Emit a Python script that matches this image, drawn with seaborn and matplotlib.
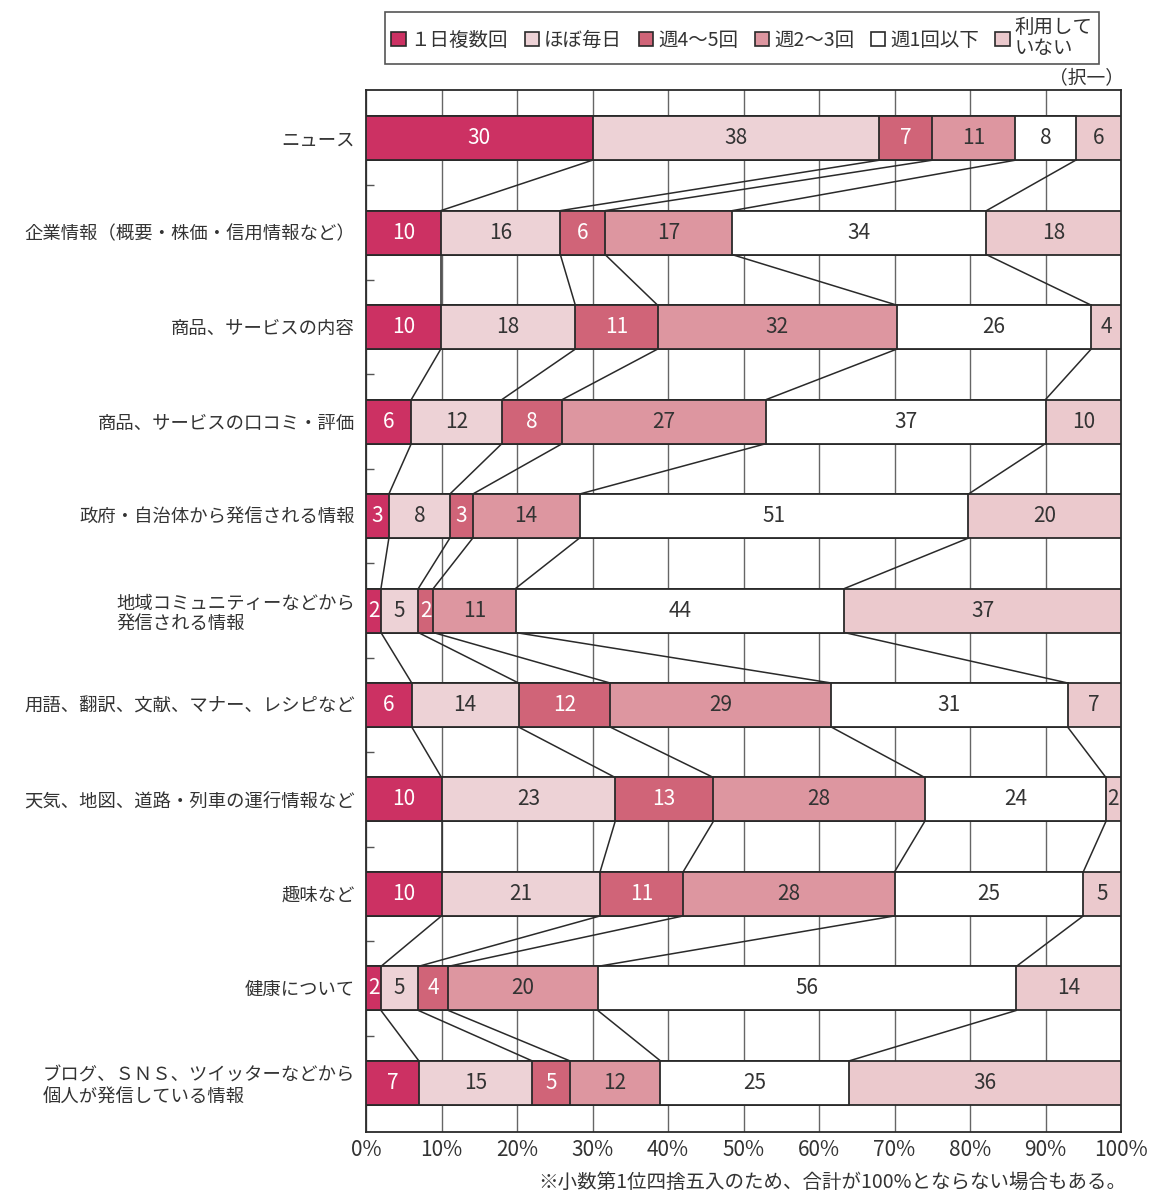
import numpy as np
import pandas as pd
import matplotlib
matplotlib.use("Agg")
import matplotlib.pyplot as plt
import seaborn as sns
from matplotlib.patches import Patch

categories = [
    "ニュース",
    "企業情報（概要・株価・信用情報など）",
    "商品、サービスの内容",
    "商品、サービスの口コミ・評価",
    "政府・自治体から発信される情報",
    "地域コミュニティーなどから\n発信される情報",
    "用語、翻訳、文献、マナー、レシピなど",
    "天気、地図、道路・列車の運行情報など",
    "趣味など",
    "健康について",
    "ブログ、ＳＮＳ、ツイッターなどから\n個人が発信している情報",
]
series_names = ["１日複数回", "ほぼ毎日", "週4～5回", "週2～3回", "週1回以下", "利用して\nいない"]
several_daily = [30, 10, 10, 6, 3, 2, 6, 10, 10, 2, 7]
almost_daily = [38, 16, 18, 12, 8, 5, 14, 23, 21, 5, 15]
w4_5 = [7, 6, 11, 8, 3, 2, 12, 13, 11, 4, 5]
w2_3 = [11, 17, 32, 27, 14, 11, 29, 28, 28, 20, 12]
w1_less = [8, 34, 26, 37, 51, 44, 31, 24, 25, 56, 25]
not_used = [6, 18, 4, 10, 20, 37, 7, 2, 5, 14, 36]
x_ticks = [0, 10, 20, 30, 40, 50, 60, 70, 80, 90, 100]
x_tick_labels = [f"{v}%" for v in x_ticks]

colors = ["#CC3163", "#EDD2D6", "#D06478", "#DD96A0", "#FFFFFF", "#EBC9CD"]
text_colors = ["white", "#333333", "white", "#333333", "#333333", "#333333"]
edge = "#2a2a2a"

sns.set_theme(style="white")
plt.rcParams['font.family'] = ['Noto Sans CJK JP', 'DejaVu Sans']

vals = np.array([several_daily, almost_daily, w4_5, w2_3, w1_less, not_used], dtype=float).T
norm = vals / vals.sum(axis=1, keepdims=True) * 100
cum = np.cumsum(norm, axis=1)

fig = plt.figure(figsize=(11.54, 11.94), dpi=100)
ax = fig.add_axes([366/1154, 1-1132/1194, (1121-366)/1154, (1132-90)/1194])

bh = 0.466
for k in range(5, -1, -1):
    df = pd.DataFrame({"cat": categories, "val": cum[:, k]})
    sns.barplot(data=df, x="val", y="cat", orient="h", color=colors[k], saturation=1,
                width=bh, edgecolor=edge, linewidth=1.3, ax=ax, zorder=3)

# value labels
for i in range(len(categories)):
    left = 0
    for k in range(6):
        right = cum[i, k]
        ax.text((left + right) / 2, i, f"{int(vals[i, k])}", ha="center", va="center",
                fontsize=15, color=text_colors[k], zorder=5)
        left = right

# connectors
for i in range(len(categories) - 1):
    for k in range(5):
        ax.plot([cum[i, k], cum[i + 1, k]], [i + bh / 2, i + 1 - bh / 2],
                color=edge, lw=1.1, zorder=4)

ax.set_xlim(0, 100)
ax.set_ylim(10.52, -0.51)
ax.set_xticks(x_ticks)
ax.set_xticklabels(x_tick_labels, fontsize=15, color="#333333")
ax.set_yticks(range(len(categories)))
ax.set_yticklabels(categories, fontsize=13.2, color="#333333")
for lab in ax.get_yticklabels():
    lab.set_multialignment("left")
    lab.set_linespacing(1.2)
ax.set_xlabel("")
ax.set_ylabel("")
ax.tick_params(axis="y", which="major", left=False, length=0, pad=8)
ax.tick_params(axis="x", length=0, pad=5)
ax.set_yticks(np.arange(0.5, 10, 1), minor=True)
ax.tick_params(axis="y", which="minor", left=True, direction="in", length=6, width=1,
               color="#555555")
ax.xaxis.grid(True, color="#666666", lw=1)
ax.set_axisbelow(True)
for s in ax.spines.values():
    s.set_visible(True)
    s.set_color(edge)
    s.set_linewidth(1.3)

handles = [Patch(facecolor=c, edgecolor=edge, linewidth=1.2) for c in colors]
leg = fig.legend(handles, series_names, loc="center", bbox_to_anchor=(742/1154, 1-38/1194),
                 ncol=6, frameon=True, fancybox=False, fontsize=14, handlelength=0.75,
                 handleheight=0.75, handletextpad=0.25, columnspacing=0.85, borderpad=0.3,
                 labelspacing=0.2)
leg.get_frame().set_edgecolor(edge)
leg.get_frame().set_linewidth(1.2)
for t in leg.get_texts():
    t.set_color("#333333")
    t.set_linespacing(0.95)

fig.text(1124/1154, 1-78/1194, "（択一）", ha="right", va="center", fontsize=13.5, color="#333333")
fig.text(1126/1154, 1-1182/1194, "※小数第1位四捨五入のため、合計が100%とならない場合もある。",
         ha="right", va="center", fontsize=14, color="#333333")

fig.savefig("out.png", dpi=100)
